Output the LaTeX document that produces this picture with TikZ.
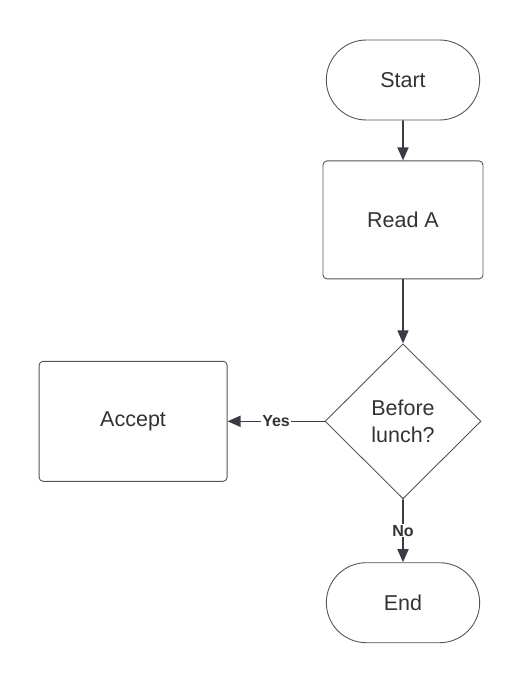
\documentclass[tikz,border=0pt]{standalone}
\usepackage{fontspec}
\setmainfont{Liberation Sans}
\usetikzlibrary{arrows.meta}
\usetikzlibrary{positioning}
\usetikzlibrary{shapes.geometric,shapes.misc}
\definecolor{linegray}{HTML}{3A3B45}
\definecolor{boxgray}{HTML}{555555}
\definecolor{textgray}{HTML}{333333}
\tikzset{
     terminal/.style={
           rounded rectangle,
           draw=boxgray, line width=0.9pt,
           minimum width=160pt,
           minimum height=80pt,
           text=textgray,
           font=\fontsize{21.5}{27}\selectfont,
           },
     process/.style={
           rectangle,
           rounded corners=4pt,
           draw=boxgray, line width=0.9pt,
           minimum width=160pt,
           minimum height=118pt,
           text=textgray,
           font=\fontsize{21.5}{27}\selectfont,
           },
     decision/.style={
           diamond,
           draw=boxgray, line width=0.9pt,
           minimum width=156pt,
           minimum height=155pt,
           inner sep=0pt,
           align=center,
           text=textgray,
           font=\fontsize{21.5}{27}\selectfont,
           },
     flow/.style={
           -{Triangle[length=13pt,width=11pt]},
           draw=linegray, line width=1.6pt,
           },
     answer/.style={
           fill=white,
           inner sep=1pt,
           text=textgray,
           font=\fontsize{16}{19}\selectfont\bfseries,
           },
}

\begin{document}
\begin{tikzpicture}
	\useasboundingbox (0,0) rectangle (523pt,-680pt);
	\node[terminal] (start) at (403pt,-80pt) {Start};
	\node[process, below=40pt of start] (reada) {Read A};
	\node[decision, below=64pt of reada] (lunch) {Before\\lunch?};
	\node[process, left=97pt of lunch, minimum width=188pt, minimum height=120pt] (accept) {Accept};
	\node[terminal, below=63pt of lunch] (end) {End};

	\draw[flow] (start) -- (reada);
	\draw[flow] (reada) -- (lunch);
	\draw[flow] (lunch) -- node[answer] {Yes} (accept);
	\draw[flow] (lunch) -- node[answer] {No} (end);
\end{tikzpicture}
\end{document}
